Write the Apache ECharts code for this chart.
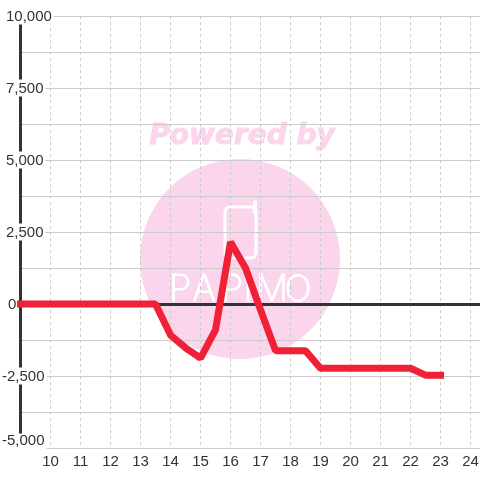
<!DOCTYPE html>
<html>
<head>
<meta charset="utf-8">
<style>
html, body { margin: 0; padding: 0; background: #fff; }
#chart { width: 480px; height: 480px; }
</style>
</head>
<body>
<div id="chart"></div>
<script src="https://cdn.jsdelivr.net/npm/echarts@6/dist/echarts.min.js"></script>
<script>
const hours = [9, 9.5, 10, 10.5, 11, 11.5, 12, 12.5, 13, 13.5, 14, 14.5, 15, 15.5, 16, 16.5, 17, 17.5, 18, 18.5, 19, 19.5, 20, 20.5, 21, 21.5, 22, 22.5, 23]
const balance = [0, 0, 0, 0, 0, 0, 0, 0, 0, 0, -1080, -1520, -1880, -900, 2150, 1250, -200, -1620, -1620, -1620, -2230, -2230, -2230, -2230, -2230, -2230, -2230, -2470, -2470]
const logoLetters = ['P', 'A', 'P', 'I', 'M', 'O']

const chart = echarts.init(document.getElementById('chart'), null, { renderer: 'canvas' })

const textFont = '"Liberation Sans", Arial, sans-serif'
const logoX = [180, 204, 232, 248, 272, 298]

// y labels hang to the left of the axis, the minus sign sticks out further
const yLabel = (value) => {
  if (value % 2500 !== 0) return ''
  const text = echarts.format.addCommas(value)
  if (value === -5000) return `{low|${text}}`
  if (value === 0) return `{zero|${text}}`
  return value < 0 ? `{neg|${text}}` : `{pos|${text}}`
}

const labelStyle = { fontSize: 15, fontFamily: textFont, color: '#333', backgroundColor: '#fff' }

chart.setOption({
  animation: false,
  backgroundColor: '#fff',
  grid: { left: 20.5, top: 16, width: 480, height: 432, outerBoundsMode: 'none', containLabel: false },
  graphic: [
    { type: 'circle', z: -10, shape: { cx: 240, cy: 259, r: 100 }, style: { fill: '#fbd5ec' } },
    { type: 'text', z: -10, x: 242, y: 137, style: { text: 'Powered by', align: 'center', verticalAlign: 'middle', fill: '#fbd5ec', stroke: '#fbd5ec', lineWidth: 1, font: 'italic bold 28px "DejaVu Sans"' } },
    { type: 'rect', z: -9, shape: { x: 225, y: 207, width: 31, height: 51, r: 5 }, style: { fill: 'none', stroke: '#fff', lineWidth: 3 } },
    { type: 'line', z: -9, shape: { x1: 255, y1: 202, x2: 255, y2: 212 }, style: { stroke: '#fff', lineWidth: 4, lineCap: 'round' } },
    ...logoLetters.map((letter, i) => ({
      type: 'text', z: -9, x: logoX[i], y: 290,
      style: { text: letter, align: 'center', verticalAlign: 'middle', fill: '#fff', stroke: '#fff', lineWidth: 1, font: '200 36px Inter, "Liberation Sans"' }
    }))
  ],
  xAxis: [
    {
      type: 'value', min: 9, max: 25, interval: 1, position: 'bottom',
      axisLine: { show: false, onZero: false },
      axisTick: { show: false },
      axisLabel: {
        fontSize: 15, fontFamily: textFont, color: '#333', margin: 6,
        formatter: (value) => (value === 9 ? '' : value)
      },
      splitLine: { show: true, lineStyle: { color: '#ccc', width: 1, type: [3, 3] } }
    },
    {
      type: 'value', min: 9, max: 25, interval: 1, position: 'top',
      axisLine: { show: true, onZero: true, lineStyle: { color: '#333', width: 3 } },
      axisTick: { show: false },
      axisLabel: { show: false },
      splitLine: { show: false }
    }
  ],
  yAxis: {
    type: 'value', min: -5000, max: 10000, interval: 1250, position: 'left',
    axisLine: { show: true, onZero: false, lineStyle: { color: '#333', width: 3 } },
    axisTick: { show: false },
    axisLabel: {
      show: true, align: 'left', margin: 18.5, showMinLabel: true, showMaxLabel: true,
      formatter: yLabel,
      rich: {
        pos: { ...labelStyle, padding: [2, 2, 0, 4] },
        zero: { ...labelStyle, padding: [2, 2, 0, 6] },
        neg: { ...labelStyle, padding: [2, 2, 0, 0] },
        low: { ...labelStyle, padding: [0, 2, 14, 0] }
      }
    },
    splitLine: { show: true, lineStyle: { color: '#ccc', width: 1 } }
  },
  series: [
    {
      type: 'line',
      xAxisIndex: 0,
      data: hours.map((h, i) => [h, balance[i]]),
      showSymbol: false,
      clip: false,
      z: 5,
      lineStyle: { color: '#f02037', width: 7, cap: 'square', join: 'bevel' }
    }
  ]
})
</script>
</body>
</html>
